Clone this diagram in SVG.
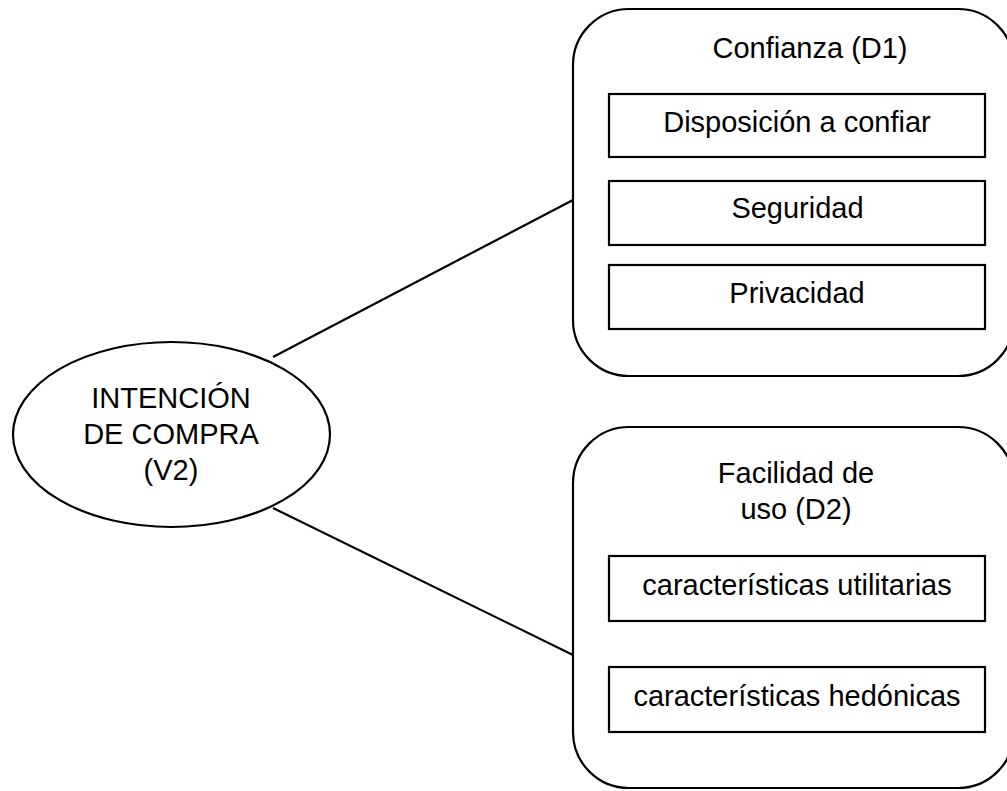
<svg xmlns="http://www.w3.org/2000/svg" width="1007" height="791" viewBox="0 0 1007 791">
<style>
.c{fill:#fff;stroke:#000;stroke-width:2.2}
.b{fill:#fff;stroke:#000;stroke-width:2.2}
.t{font-family:"Liberation Sans",Arial,sans-serif;font-size:29px;fill:#000;text-anchor:middle}
.l{stroke:#000;stroke-width:2.2;fill:none}
</style>
<rect width="1007" height="791" fill="#fff"/>
<g id="connectors">
<line class="l" x1="273" y1="357" x2="573" y2="200"/>
<line class="l" x1="273" y1="508" x2="573" y2="655"/>
</g>
<g id="intencion">
<ellipse class="b" cx="171.5" cy="434.5" rx="158.5" ry="92.5"/>
<text class="t" x="171" y="408">INTENCIÓN</text>
<text class="t" x="171" y="444">DE COMPRA</text>
<text class="t" x="171" y="480">(V2)</text>
</g>
<g id="confianza">
<rect class="c" x="573" y="9" width="441" height="367" rx="56" ry="56"/>
<text class="t" x="810" y="58">Confianza (D1)</text>
</g>
<g id="disposicion">
<rect class="b" x="609" y="94" width="376" height="63"/>
<text class="t" x="797" y="132">Disposición a confiar</text>
</g>
<g id="seguridad">
<rect class="b" x="609" y="181" width="376" height="64"/>
<text class="t" x="797.5" y="218">Seguridad</text>
</g>
<g id="privacidad">
<rect class="b" x="609" y="265" width="376" height="64"/>
<text class="t" x="797" y="303">Privacidad</text>
</g>
<g id="facilidad">
<rect class="c" x="573" y="427" width="441" height="361" rx="56" ry="56"/>
<text class="t" x="796" y="483">Facilidad de</text>
<text class="t" x="796" y="519">uso (D2)</text>
</g>
<g id="utilitarias">
<rect class="b" x="609" y="556" width="376" height="65"/>
<text class="t" x="797" y="595">características utilitarias</text>
</g>
<g id="hedonicas">
<rect class="b" x="609" y="667" width="376" height="65"/>
<text class="t" x="797" y="706">características hedónicas</text>
</g>
</svg>
